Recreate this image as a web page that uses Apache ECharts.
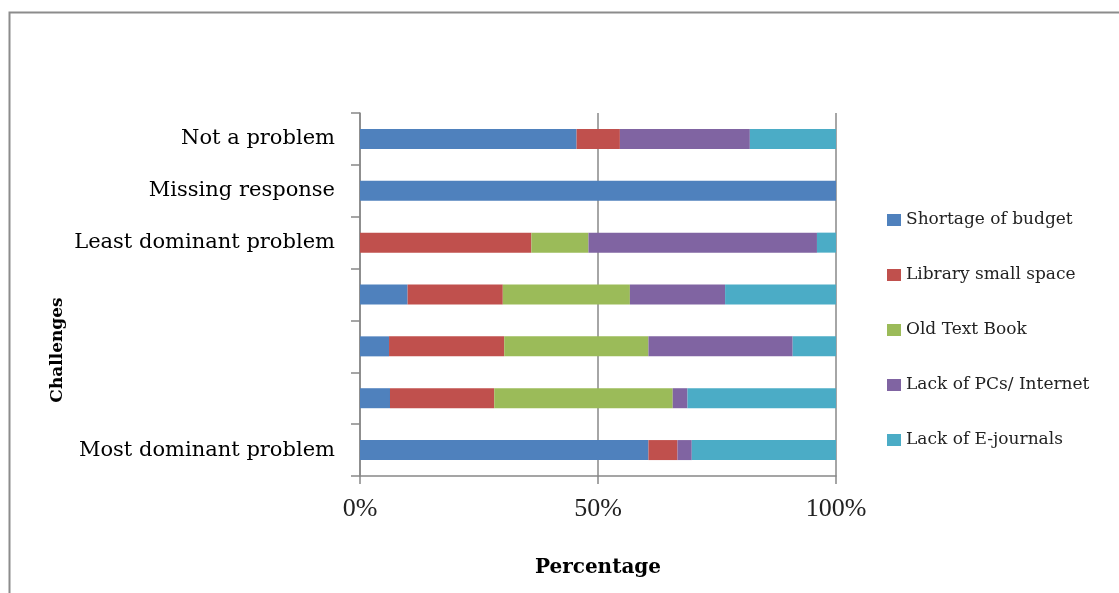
<!DOCTYPE html>
<html>
<head>
<meta charset="utf-8">
<title>Challenges</title>
<script src="https://cdn.jsdelivr.net/npm/echarts@6/dist/echarts.min.js"></script>
<style>
  html, body { margin: 0; padding: 0; background: #ffffff; }
  #chart { width: 1119px; height: 593px; }
</style>
</head>
<body>
<div id="chart"></div>
<script>
// Categories, listed bottom to top along the vertical axis
var categories = ['Most dominant problem', '', '', '', 'Least dominant problem', 'Missing response', 'Not a problem'];

// Share of responses (%) per category, one array per challenge
var shortageOfBudget  = [60.6, 6.3, 6.1, 10.0, 0, 100, 45.5];
var librarySmallSpace = [6.1, 21.9, 24.2, 20.0, 36.0, 0, 9.1];
var oldTextBook       = [0, 37.5, 30.3, 26.7, 12.0, 0, 0];
var lackOfPCs         = [3.0, 3.1, 30.3, 20.0, 48.0, 0, 27.3];
var lackOfEJournals   = [30.3, 31.2, 9.1, 23.3, 4.0, 0, 18.1];

var seriesNames = ['Shortage of budget', 'Library small space', 'Old Text Book', 'Lack of PCs/ Internet', 'Lack of E-journals'];
var seriesValues = [shortageOfBudget, librarySmallSpace, oldTextBook, lackOfPCs, lackOfEJournals];
var colors = ['#4F81BD', '#C0504D', '#9BBB59', '#8064A2', '#4BACC6'];

var xTicks = { min: 0, max: 100, interval: 50 };

var serif = '"DejaVu Serif", "Liberation Serif", serif';

var chart = echarts.init(document.getElementById('chart'), null, { renderer: 'canvas' });

var series = seriesNames.map(function (name, i) {
  return {
    name: name,
    type: 'bar',
    stack: 'total',
    barWidth: 20,
    itemStyle: { color: colors[i] },
    data: seriesValues[i]
  };
});

chart.setOption({
  animation: false,
  color: colors,
  graphic: [
    {
      // outer frame of the chart area
      type: 'rect',
      left: 7,
      top: 10,
      shape: { width: 1200, height: 700 },
      style: { fill: 'none', stroke: '#8c8c8c', lineWidth: 2 },
      silent: true
    },
    {
      // vertical axis title
      type: 'text',
      x: 58,
      y: 350,
      rotation: Math.PI / 2,
      style: {
        text: 'Challenges',
        fontFamily: serif,
        fontSize: 17,
        fontWeight: 'bold',
        fill: '#000',
        align: 'center',
        verticalAlign: 'middle'
      },
      silent: true
    }
  ],
  grid: { left: 360, right: 283, top: 113, bottom: 117, containLabel: false },
  legend: {
    orient: 'vertical',
    left: 882,
    top: 205,
    itemWidth: 14,
    itemHeight: 12,
    itemGap: 35,
    icon: 'rect',
    data: seriesNames,
    textStyle: { fontFamily: serif, fontSize: 17, color: '#222', lineHeight: 20 }
  },
  xAxis: {
    type: 'value',
    min: xTicks.min,
    max: xTicks.max,
    interval: xTicks.interval,
    name: 'Percentage',
    nameLocation: 'middle',
    nameGap: 82,
    nameTextStyle: { fontFamily: serif, fontSize: 20, fontWeight: 'bold', color: '#000' },
    axisLine: { show: true, lineStyle: { color: '#888', width: 1.5 } },
    axisTick: { show: true, length: 8, lineStyle: { color: '#888', width: 1.5 } },
    splitLine: { show: true, lineStyle: { color: '#888', width: 1.5 } },
    axisLabel: {
      formatter: '{value}%',
      margin: 20,
      fontFamily: '"Liberation Serif", serif',
      fontSize: 26,
      color: '#222'
    }
  },
  yAxis: {
    type: 'category',
    data: categories,
    axisLine: { show: true, lineStyle: { color: '#888', width: 1.5 } },
    axisTick: { show: true, length: 9, alignWithLabel: false, lineStyle: { color: '#888', width: 1.5 } },
    axisLabel: { margin: 25, fontFamily: serif, fontSize: 21, color: '#000' }
  },
  series: series
});
</script>
</body>
</html>
